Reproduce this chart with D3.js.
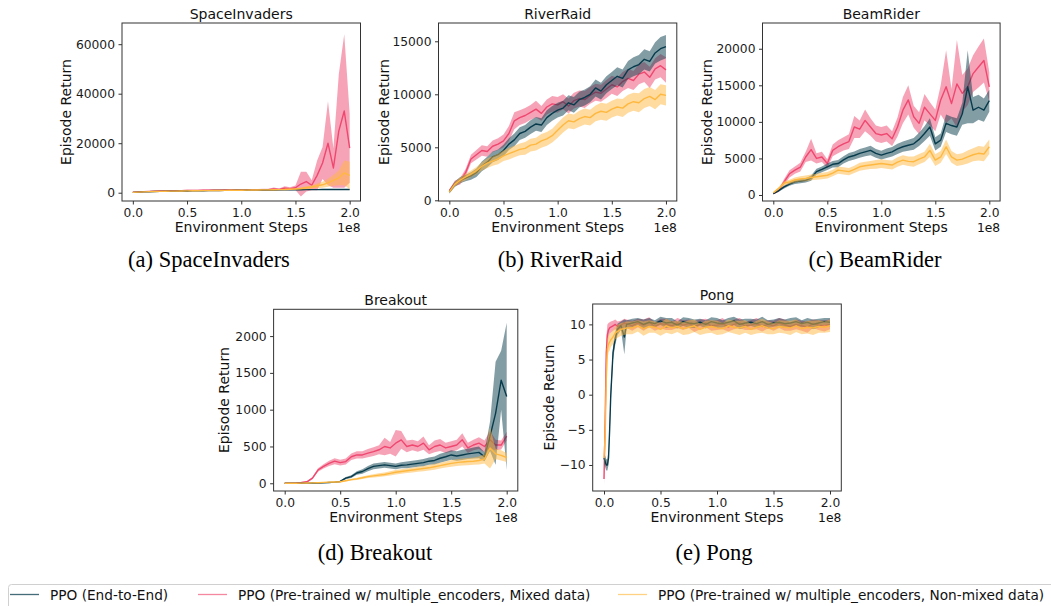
<!DOCTYPE html>
<html>
<head>
<meta charset="utf-8">
<script src="https://cdn.jsdelivr.net/npm/d3@7"></script>
<style>
  body { margin: 0; background: #fff; }
  svg { font-family: "DejaVu Sans", sans-serif; }
  .tick text { font-size: 12.3px; fill: #1a1a1a; }
  .tick line { stroke: #333; }
</style>
</head>
<body>
<svg id="chart" width="1051" height="606"></svg>
<script>
// x positions in units of 1e8 environment steps
var STEPS = [0,0.05,0.1,0.15,0.2,0.25,0.3,0.35,0.4,0.45,0.5,0.55,0.6,0.65,0.7,0.75,0.8,0.85,0.9,0.95,
  1,1.05,1.1,1.15,1.2,1.25,1.3,1.35,1.4,1.45,1.5,1.55,1.6,1.65,1.7,1.75,1.8,1.85,1.9,1.95,2];
var PONG_STEPS = [0,0.01,0.02,0.03,0.04,0.05,0.06,0.08,0.1,0.12,0.15,0.18,0.2,
  0.25,0.3,0.35,0.4,0.45,0.5,0.55,0.6,0.65,0.7,0.75,0.8,0.85,0.9,0.95,1,1.05,1.1,1.15,1.2,1.25,
  1.3,1.35,1.4,1.45,1.5,1.55,1.6,1.65,1.7,1.75,1.8,1.85,1.9,1.95,2];

var SERIES_NAMES = ["PPO (End-to-End)",
  "PPO (Pre-trained w/ multiple_encoders, Mixed data)",
  "PPO (Pre-trained w/ multiple_encoders, Non-mixed data)"];
var X_TICKS = [0, 0.5, 1, 1.5, 2];

// SpaceInvaders: mean and half band
var siE2E = [150,230,320,400,460,520,570,610,650,690,720,760,790,820,850,880,900,930,950,970,
  990,1010,1030,1050,1070,1090,1110,1130,1150,1170,1190,1210,1230,1250,1260,1270,1280,1290,1300,1310,1320];
var siE2EBand = [40,50,60,60,70,70,70,80,80,80,80,80,80,80,80,80,80,90,90,90,
  90,90,90,90,90,90,90,90,90,100,100,100,100,100,100,100,100,100,100,100,100];
var siMixed = [200,300,420,520,600,680,720,780,820,860,900,930,960,1000,1020,1050,1060,1080,1100,1120,
  1130,1150,1180,1200,1230,1250,1500,1350,1800,1600,2000,3500,4500,3000,7000,12000,20000,10000,25000,33000,18000];
var siMixedBand = [100,150,150,200,200,200,250,250,250,250,250,250,250,250,300,300,300,300,300,300,
  300,300,300,300,350,350,600,400,800,600,900,5000,4000,2000,6000,6500,17000,8000,23000,31000,14000];
var siNonMixed = [150,250,350,420,480,540,580,620,660,700,740,770,800,830,860,890,920,950,980,1000,
  1020,1050,1080,1100,1130,1160,1200,1250,1300,1400,1500,1700,2000,2300,2800,3200,4000,5000,6000,8000,7000];
var siNonMixedBand = [50,60,70,80,80,90,90,100,100,100,100,110,110,110,120,120,120,130,130,130,
  140,140,150,150,150,160,180,200,250,300,350,450,600,700,900,1200,1600,2200,3000,5000,5500];

// RiverRaid
var rrE2E = [800,1500,1900,2100,2300,2600,3200,3600,4100,4300,4700,5300,5700,6300,6500,6900,7200,7100,7800,8200,
  8500,8700,9200,9000,9500,9700,10000,10600,10300,10900,11300,11700,11500,12300,12600,12800,13300,13100,13900,14300,14500];
var rrE2EBand = [150,250,300,300,350,400,450,500,500,500,550,550,600,600,600,650,650,650,700,700,
  700,700,700,750,750,750,750,800,800,800,800,850,850,850,900,900,950,950,1000,1100,1100];
var rrMixed = [900,1600,1800,2600,3900,4300,4700,4600,5100,5300,5600,6300,7500,7800,8000,8300,8600,8200,8800,9100,
  9000,9300,8900,9400,9600,9500,9900,10200,10100,10500,10900,10700,11200,11500,11300,11900,12100,11600,12400,12700,12300];
var rrMixedBand = [150,250,300,350,400,450,500,500,550,550,600,700,800,700,700,700,800,700,700,750,
  750,700,700,750,750,800,800,800,800,850,850,850,900,900,900,950,950,1000,1000,1100,1200];
var rrNonMixed = [800,1500,1900,2200,2500,2800,3200,3500,3700,3900,4200,4400,4600,4800,4900,5200,5300,5600,5800,6100,
  6600,7100,7500,7400,7700,7900,7800,8200,8400,8300,8600,8800,8700,9100,9300,9200,9600,9800,9500,10000,9900];
var rrNonMixedBand = [150,200,250,300,300,350,400,450,450,500,500,550,550,550,600,600,600,650,650,650,
  700,700,700,700,750,750,750,750,800,800,800,800,850,850,850,900,900,900,900,950,950];

// BeamRider
var brE2E = [200,600,1100,1500,1800,1900,2000,2300,3200,3500,3860,4200,4300,4800,5200,5400,5700,5900,6100,5700,
  5450,5700,5900,6300,6600,6800,7000,7600,8400,9300,7000,7500,9800,9500,9300,11100,14800,11600,12000,11600,12900];
var brE2EBand = [100,150,200,250,300,300,300,350,400,400,450,450,500,500,550,550,600,600,650,600,
  600,650,650,700,700,750,800,900,1000,1200,900,900,1200,1200,1200,1500,5000,1800,1700,1600,1500];
var brMixed = [200,600,1800,2900,3400,3800,5200,6200,5000,5200,4300,6100,6600,7000,7300,9300,9000,10200,9300,8400,
  8200,8400,7700,9300,11600,13000,10700,9800,12000,11100,10200,13000,14800,12500,15200,13900,14800,16600,17500,18400,14800];
var brMixedBand = [100,200,400,500,500,600,700,1500,700,700,600,800,900,900,1000,1500,1200,1500,1200,1100,
  1100,1100,1000,1300,1800,2000,1500,1500,1800,1600,1500,2000,5000,2000,6000,2500,2500,2500,2800,3000,2000];
var brNonMixed = [300,900,1600,1800,2050,2200,2270,2400,2500,2600,2700,3000,3400,3300,3200,3500,3860,4000,4100,4200,
  4300,4200,4100,4500,4770,4600,4550,4900,5200,6100,4770,5200,6600,5200,4770,4900,5200,5500,5700,5600,6600];
var brNonMixedBand = [100,200,300,300,350,350,400,400,400,450,450,450,500,500,500,500,550,550,550,600,
  600,600,600,650,650,650,700,700,700,900,800,800,1000,800,800,800,900,900,1000,1000,1000];

// Breakout
var boE2E = [0,0,0,1,2,3,4,6,10,15,25,70,90,140,160,200,230,240,250,240,
  230,245,250,260,270,280,300,310,340,360,385,370,385,400,410,420,360,640,950,1400,1180];
var boE2EBand = [0,0,0,1,1,2,2,3,4,6,10,15,20,25,30,35,40,40,40,40,
  40,40,45,45,45,50,50,55,60,60,65,65,70,70,75,80,60,200,700,400,1000];
var boMixed = [0,2,5,10,20,70,180,230,270,300,280,295,360,385,385,410,430,455,500,480,
  545,590,500,520,500,545,455,500,520,480,500,520,590,480,520,545,500,590,520,520,640];
var boMixedBand = [0,1,3,5,8,15,25,30,35,40,40,40,45,50,50,55,60,60,120,80,
  180,120,80,70,70,90,60,80,80,70,70,70,90,70,70,80,80,120,70,60,60];
var boNonMixed = [0,0,1,2,3,5,8,12,15,18,20,35,50,60,75,90,100,110,120,135,
  150,160,170,180,190,200,210,225,240,255,270,280,290,295,300,310,330,480,400,380,350];
var boNonMixedBand = [0,0,0,1,1,2,3,4,5,6,8,10,12,15,18,20,22,25,25,28,
  30,30,32,32,35,35,38,40,40,42,45,45,48,50,50,55,60,280,70,70,60];

// Pong (on PONG_STEPS)
var pgE2E = [-9,-9.5,-10,-10,-9,-5,0,6,8,9.3,9.8,8.2,10.0,
  10.2,10.4,10.0,10.3,10.1,10.5,10.2,10.3,9.9,10.4,10.2,10.1,10.3,10.0,10.4,10.2,10.1,10.3,10.5,10.0,
  10.2,10.3,10.1,10.4,10.0,10.2,10.3,10.1,10.2,10.4,10.1,10.3,10.0,10.2,10.4,10.3];
var pgE2EBand = [0.8,0.8,0.8,0.8,1,1.2,1.2,1,0.9,0.8,0.6,2.5,0.6,
  0.6,0.5,0.7,0.6,0.5,0.6,0.7,0.6,0.5,0.6,0.7,0.6,0.5,0.6,0.6,0.7,0.5,0.6,0.6,0.7,
  0.6,0.5,0.6,0.7,0.6,0.5,0.6,0.6,0.7,0.6,0.5,0.6,0.7,0.6,0.5,0.6];
var pgMixed = [-12,-4,6,8.5,9.2,9.5,9.6,9.8,10,9.7,9.9,10.2,10.1,
  9.8,10.2,9.9,10.3,9.7,10.1,10.0,9.8,10.2,9.9,10.1,9.7,10.0,10.2,9.8,9.9,10.1,9.6,10.0,10.2,
  9.8,9.9,10.1,9.7,10.0,9.8,10.2,9.9,9.7,10.0,9.8,9.6,10.1,9.9,9.8,10.0];
var pgMixedBand = [1,1.5,2,1.5,1,0.8,0.8,0.7,0.7,0.7,0.6,0.6,0.6,
  0.7,0.6,0.8,0.7,0.6,0.7,0.8,0.6,0.7,0.7,0.6,0.8,0.7,0.6,0.7,0.7,0.8,0.6,0.7,0.7,
  0.6,0.7,0.8,0.7,0.6,0.7,0.7,0.8,0.6,0.7,0.7,0.8,0.6,0.7,0.8,0.7];
var pgNonMixed = [-9,-6,2,6.5,7.2,7.5,7.8,8.2,8.8,9.0,9.3,9.4,9.5,
  9.5,9.8,9.4,9.7,9.6,9.3,9.8,9.5,9.7,9.4,9.6,9.8,9.3,9.6,9.7,9.5,9.4,9.8,9.6,9.5,
  9.7,9.3,9.6,9.8,9.5,9.4,9.7,9.6,9.5,9.8,9.4,9.6,9.5,9.7,9.6,9.8];
var pgNonMixedBand = [1.5,2,2,1.5,1.2,1.2,1.0,1.0,0.9,0.9,0.9,0.9,0.9,
  0.9,0.8,1.0,0.9,0.8,0.9,1.0,0.9,0.8,0.9,1.0,0.9,0.8,0.9,0.9,1.0,0.8,0.9,0.9,1.0,
  0.9,0.8,0.9,1.0,0.9,0.8,0.9,0.9,1.0,0.9,0.8,0.9,1.0,0.9,0.8,0.9];

var COLORS = ["#073b4c", "#ef476f", "#ffb83f"];
var DRAW_ORDER = [1, 0, 2];

var svg = d3.select("#chart");

var panels = [
  { title: "SpaceInvaders", caption: "(a) SpaceInvaders", capX: 209, capY: 267,
    left: 122, top: 23, width: 238.5, height: 178, labelOff: 56,
    yDomain: [-3350, 68565], yTicks: [0, 20000, 40000, 60000], steps: STEPS,
    series: [[siE2E, siE2EBand], [siMixed, siMixedBand], [siNonMixed, siNonMixedBand]] },
  { title: "RiverRaid", caption: "(b) RiverRaid", capX: 560, capY: 267,
    left: 438.5, top: 23, width: 238.3, height: 178, labelOff: 55,
    yDomain: [-66, 16726], yTicks: [0, 5000, 10000, 15000], steps: STEPS,
    series: [[rrE2E, rrE2EBand], [rrMixed, rrMixedBand], [rrNonMixed, rrNonMixedBand]] },
  { title: "BeamRider", caption: "(c) BeamRider", capX: 875, capY: 267,
    left: 762.5, top: 23, width: 237.6, height: 178, labelOff: 56,
    yDomain: [-822, 23521], yTicks: [0, 5000, 10000, 15000, 20000], steps: STEPS,
    series: [[brE2E, brE2EBand], [brMixed, brMixedBand], [brNonMixed, brNonMixedBand]] },
  { title: "Breakout", caption: "(d) Breakout", capX: 375, capY: 560,
    left: 273.6, top: 309.3, width: 244.2, height: 181.7, labelOff: 50,
    yDomain: [-105, 2364], yTicks: [0, 500, 1000, 1500, 2000], steps: STEPS,
    series: [[boE2E, boE2EBand], [boMixed, boMixedBand], [boNonMixed, boNonMixedBand]] },
  { title: "Pong", caption: "(e) Pong", capX: 714, capY: 560,
    left: 592.7, top: 304, width: 248.6, height: 187, labelOff: 44,
    yDomain: [-13.7, 12.9], yTicks: [-10, -5, 0, 5, 10], steps: PONG_STEPS,
    series: [[pgE2E, pgE2EBand], [pgMixed, pgMixedBand], [pgNonMixed, pgNonMixedBand]] }
];

panels.forEach(function (p, n) {
  var x = d3.scaleLinear().domain([-0.1, 2.1]).range([0, p.width]);
  var y = d3.scaleLinear().domain(p.yDomain).range([p.height, 0]);

  var g = svg.append("g").attr("transform", "translate(" + p.left + "," + p.top + ")");
  g.append("clipPath").attr("id", "clip" + n)
    .append("rect").attr("width", p.width).attr("height", p.height);
  var plot = g.append("g").attr("clip-path", "url(#clip" + n + ")");

  var area = d3.area()
    .x(function (d) { return x(d.x); })
    .y0(function (d) { return y(d.m - d.b); })
    .y1(function (d) { return y(d.m + d.b); });
  var line = d3.line()
    .x(function (d) { return x(d.x); })
    .y(function (d) { return y(d.m); });

  DRAW_ORDER.forEach(function (s) {
    var mean = p.series[s][0], band = p.series[s][1];
    var pts = p.steps.map(function (st, i) { return { x: st, m: mean[i], b: band[i] }; })
      .filter(function (d) { return d.m != null && d.b != null; });
    plot.append("path").datum(pts)
      .attr("fill", COLORS[s]).attr("fill-opacity", 0.5).attr("d", area);
    plot.append("path").datum(pts)
      .attr("fill", "none").attr("stroke", COLORS[s]).attr("stroke-width", 1.4)
      .attr("stroke-linejoin", "round").attr("d", line);
  });

  // axes
  var xa = g.append("g").attr("transform", "translate(0," + p.height + ")")
    .call(d3.axisBottom(x).tickValues(X_TICKS).tickFormat(d3.format(".1f")).tickSize(3.5).tickPadding(3.5));
  var ya = g.append("g")
    .call(d3.axisLeft(y).tickValues(p.yTicks).tickFormat(d3.format("d")).tickSize(3.5).tickPadding(3.5));
  xa.select(".domain").remove();
  ya.select(".domain").remove();
  xa.selectAll("text").style("font-family", "DejaVu Sans").style("font-size", "12.3px");
  ya.selectAll("text").style("font-family", "DejaVu Sans").style("font-size", "12.3px");

  g.append("rect").attr("width", p.width).attr("height", p.height)
    .attr("fill", "none").attr("stroke", "#333").attr("stroke-width", 1);

  g.append("text").attr("x", p.width / 2).attr("y", -4)
    .attr("text-anchor", "middle").style("font-size", "14px").attr("fill", "#111").text(p.title);
  g.append("text").attr("x", p.width / 2).attr("y", p.height + 31)
    .attr("text-anchor", "middle").style("font-size", "14px").attr("fill", "#111").text("Environment Steps");
  g.append("text").attr("x", p.width).attr("y", p.height + 31)
    .attr("text-anchor", "end").style("font-size", "12.3px").attr("fill", "#111").text("1e8");
  g.append("text")
    .attr("transform", "translate(" + (-p.labelOff) + "," + (p.height / 2) + ") rotate(-90)")
    .attr("text-anchor", "middle").attr("dominant-baseline", "central")
    .style("font-size", "14px").attr("fill", "#111").text("Episode Return");

  svg.append("text").attr("x", p.capX).attr("y", p.capY)
    .attr("text-anchor", "middle").style("font-family", "Liberation Serif, serif")
    .style("font-size", "22.5px").attr("fill", "#000").text(p.caption);
});

// legend
var legend = svg.append("g");
legend.append("rect").attr("x", 8.5).attr("y", 584.5).attr("width", 1100).attr("height", 40)
  .attr("rx", 3).attr("fill", "#fff").attr("stroke", "#d0d0d0");
var legendX = [10, 198, 618];
SERIES_NAMES.forEach(function (name, i) {
  legend.append("line").attr("x1", legendX[i]).attr("x2", legendX[i] + 29)
    .attr("y1", 594.5).attr("y2", 594.5).attr("stroke", COLORS[i]).attr("stroke-width", 1.3)
    .attr("stroke-opacity", i === 0 ? 0.75 : 0.65);
  legend.append("text").attr("x", legendX[i] + 40).attr("y", 594.5)
    .attr("dominant-baseline", "central").style("font-size", "13.7px").attr("fill", "#111").text(name);
});
</script>
</body>
</html>
